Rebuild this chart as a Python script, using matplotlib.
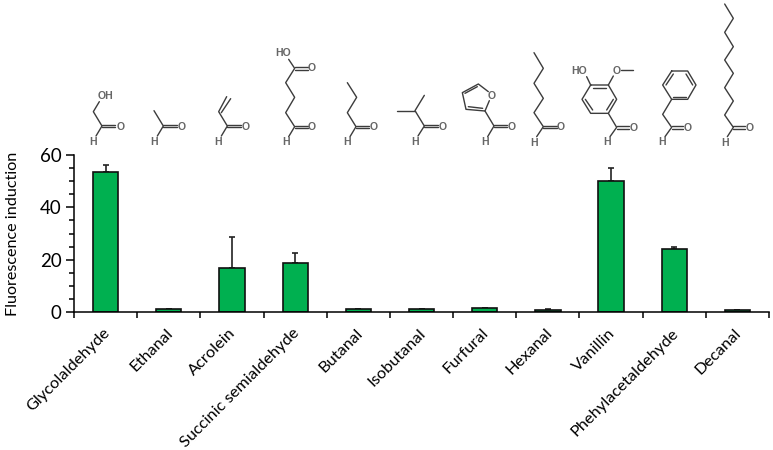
"""Fluorescence induction per aldehyde, with skeletal structures above the bars."""
import matplotlib
matplotlib.use("Agg")
import matplotlib.pyplot as plt
from matplotlib.ticker import MultipleLocator
from matplotlib.transforms import ScaledTranslation

plt.rcParams['font.family'] = ['Lato', 'DejaVu Sans']

names = ['Glycolaldehyde', 'Ethanal', 'Acrolein', 'Succinic semialdehyde', 'Butanal',
         'Isobutanal', 'Furfural', 'Hexanal', 'Vanillin', 'Phehylacetaldehyde', 'Decanal']
values = [53.5, 1.0, 17.0, 18.8, 1.0, 1.0, 1.4, 0.9, 50.0, 23.9, 0.6]
errors = [2.5, 0.1, 11.5, 3.7, 0.1, 0.1, 0.1, 0.1, 5.0, 1.0, 0.1]

# structures at 3x zoom: (bonds, labels, x offset of the crop)
# each bond is a polyline, each label is (text, x, y)
structures = [
    ([[(298, 305), (280, 335), (306, 378), (288, 408)], [(306, 375), (346, 375)], [(306, 382), (346, 382)]],
     [('OH', 318, 288), ('O', 362, 380), ('H', 280, 425)], 0),
    ([[(462, 332), (490, 378), (472, 408)], [(490, 375), (530, 375)], [(490, 382), (530, 382)]],
     [('O', 545, 380), ('H', 462, 425)], 0),
    ([[(680, 290), (656, 335), (682, 378), (664, 408)], [(692, 296), (664, 338)], [(682, 375), (722, 375)],
      [(682, 382), (722, 382)]],
     [('O', 737, 380), ('H', 655, 427)], 0),
    ([[(866, 178), (884, 205), (857, 248), (884, 292), (857, 338), (884, 380), (866, 410)],
      [(884, 202), (925, 202)], [(884, 209), (925, 209)], [(884, 377), (925, 377)], [(884, 384), (925, 384)]],
     [('HO', 848, 160), ('O', 936, 205), ('O', 936, 382), ('H', 857, 427)], 0),
    ([[(1042, 248), (1070, 292), (1042, 338), (1068, 380), (1050, 410)], [(1068, 377), (1108, 377)],
      [(1068, 384), (1108, 384)]],
     [('O', 1120, 380), ('H', 1042, 425)], 0),
    ([[(20, 332), (75, 332)], [(103, 286), (75, 332), (103, 378), (84, 408)], [(103, 375), (145, 375)],
      [(103, 382), (145, 382)]],
     [('O', 158, 380), ('H', 76, 425)], 1170),
    ([[(295, 275), (265, 252), (217, 278), (228, 328), (285, 333), (298, 302)], [(225, 280), (262, 260)],
      [(235, 320), (278, 325)], [(285, 333), (312, 378), (293, 410)], [(312, 375), (352, 375)],
      [(312, 382), (352, 382)]],
     [('O', 305, 288), ('O', 364, 380), ('H', 284, 425)], 1170),
    ([[(432, 158), (460, 205), (432, 250), (460, 295), (432, 338), (460, 380), (440, 410)],
      [(460, 377), (500, 377)], [(460, 384), (500, 384)]],
     [('O', 512, 382), ('H', 432, 428)], 1170),
    ([[(602, 255), (655, 255), (680, 298), (655, 340), (602, 340), (576, 298), (602, 255)],
      [(610, 264), (648, 264)], [(670, 298), (650, 330)], [(608, 330), (586, 298)],
      [(590, 230), (602, 255)], [(655, 255), (670, 228)], [(692, 211), (730, 211)],
      [(655, 340), (680, 382), (660, 410)], [(680, 379), (718, 379)], [(680, 386), (718, 386)]],
     [('HO', 566, 212), ('O', 680, 212), ('O', 730, 384), ('H', 652, 427)], 1170),
    ([[(845, 213), (893, 213), (918, 255), (893, 298), (845, 298), (818, 255), (845, 213)],
      [(850, 222), (828, 255)], [(888, 222), (908, 255)], [(850, 290), (888, 290)],
      [(845, 298), (818, 343), (845, 382), (825, 410)], [(845, 379), (880, 379)], [(845, 386), (880, 386)]],
     [('O', 892, 385), ('H', 817, 427)], 1170),
    ([[(1004, 12), (1030, 55), (1004, 97), (1030, 140), (1004, 180), (1030, 220), (1004, 263), (1030, 303),
       (1004, 345), (1030, 382), (1012, 410)], [(1030, 379), (1065, 379)], [(1030, 386), (1065, 386)]],
     [('O', 1078, 385), ('H', 1004, 428)], 1170),
]


def draw_structures(fig):
    """Draw the molecules on a transparent axes that spans the figure in pixels."""
    over = fig.add_axes([0, 0, 1, 1])
    over.set_xlim(0, 773)
    over.set_ylim(450, 0)
    over.axis('off')
    for bonds, labels, offset in structures:
        for bond in bonds:
            over.plot([(p[0] + offset) / 3 for p in bond], [p[1] / 3 for p in bond],
                      color='#3c3c3c', lw=1.0, solid_capstyle='round')
        for text, x, y in labels:
            over.text((x + offset) / 3, y / 3, text, color='#666666', fontsize=7.6, fontweight='bold',
                      family=['Liberation Sans'], ha='center', va='center')


def main():
    fig = plt.figure(figsize=(7.73, 4.5), dpi=100)
    ax = fig.add_axes([74 / 773, 1 - 312 / 450, 695 / 773, 157 / 450])

    positions = [i + 0.5 for i in range(len(names))]
    ax.bar(positions, values, width=0.4, color='#00B050', edgecolor='#101010', linewidth=1.2, zorder=2)
    ax.errorbar(positions, values, yerr=[[0] * len(errors), errors], fmt='none', ecolor='#222222',
                elinewidth=1.2, capsize=2.3, capthick=1.2, zorder=1)

    ax.set_xlim(0, 11)
    ax.set_ylim(0, 60)
    ax.spines['top'].set_visible(False)
    ax.spines['right'].set_visible(False)
    ax.spines['left'].set_linewidth(1.1)
    ax.spines['bottom'].set_linewidth(1.1)

    ax.yaxis.set_major_locator(MultipleLocator(20))
    ax.yaxis.set_minor_locator(MultipleLocator(5))
    ax.tick_params(axis='y', which='major', length=6, width=1.1, labelsize=13.5, pad=3)
    ax.tick_params(axis='y', which='minor', length=3.5, width=1.1)
    ax.set_ylabel('Fluorescence induction', fontsize=11.6, labelpad=14)

    ax.set_xticks(range(12))
    ax.set_xticks(positions, minor=True)
    ax.set_xticklabels([''] * 12)
    ax.set_xticklabels(names, minor=True, rotation=45, ha='right', rotation_mode='anchor', fontsize=11.8)
    ax.tick_params(axis='x', which='major', length=4, width=1.1)
    ax.tick_params(axis='x', which='minor', length=0, pad=10)
    # labels end a little left of the bar centre
    shift = ScaledTranslation(-3 / 100, 0, fig.dpi_scale_trans)
    for label in ax.get_xticklabels(minor=True):
        label.set_transform(label.get_transform() + shift)

    draw_structures(fig)
    fig.savefig('out.png', dpi=100)


if __name__ == "__main__":
    main()
